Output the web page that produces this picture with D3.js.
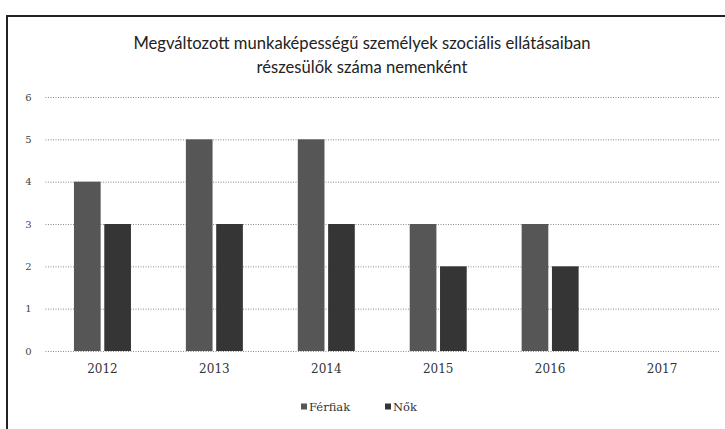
<!DOCTYPE html>
<html>
<head>
<meta charset="utf-8">
<script src="https://cdn.jsdelivr.net/npm/d3@7"></script>
<style>
  html, body { margin: 0; padding: 0; background: #fff; }
  svg { display: block; }
</style>
</head>
<body>
<svg id="chart" width="725" height="429"></svg>
<script>
// Chart data
const years = ["2012", "2013", "2014", "2015", "2016", "2017"];
const ferfiak = [4, 5, 5, 3, 3, 0];
const nok = [3, 3, 3, 2, 2, 0];
const seriesNames = ["Férfiak", "Nők"];
const yTicks = [0, 1, 2, 3, 4, 5, 6];
const titleLines = [
  "Megváltozott munkaképességű személyek szociális ellátásaiban",
  "részesülők száma nemenként"
];

const colors = { "Férfiak": "#565656", "Nők": "#353535" };
const svg = d3.select("#chart");

// Frame of the chart area
svg.append("line").attr("x1", 6).attr("x2", 725).attr("y1", 16).attr("y2", 16)
  .attr("stroke", "#222").attr("stroke-width", 2);
svg.append("line").attr("x1", 7).attr("x2", 7).attr("y1", 15).attr("y2", 429)
  .attr("stroke", "#222").attr("stroke-width", 2);

// Title
svg.append("g").selectAll("text").data(titleLines).join("text")
  .attr("x", 362).attr("y", (d, i) => 49 + i * 24)
  .attr("text-anchor", "middle")
  .attr("font-family", "Lato, 'Open Sans', sans-serif")
  .attr("font-size", 16.6)
  .attr("fill", "#222")
  .text(d => d);

const plot = { left: 46.5, right: 718, top: 97, bottom: 351 };

const x = d3.scaleBand().domain(years).range([plot.left, plot.right]).paddingInner(0).paddingOuter(0);
const xSub = d3.scaleBand().domain(seriesNames).range([0, 57]).paddingInner(0.12);
const y = d3.scaleLinear().domain([0, 6]).range([plot.bottom, plot.top]);

// Gridlines
const yAxis = d3.axisLeft(y).tickValues(yTicks).tickSize(-(plot.right - plot.left + 2)).tickPadding(14).tickFormat(d3.format("d"));
const gy = svg.append("g").attr("transform", `translate(${plot.left - 1},0)`).call(yAxis);
gy.select(".domain").remove();
gy.selectAll(".tick line").attr("stroke", "#8a8a8a").attr("stroke-dasharray", "1,1.5").attr("stroke-width", 1);
gy.selectAll(".tick text").attr("font-family", "'DejaVu Serif', 'Liberation Serif', serif")
  .attr("font-size", 10).attr("fill", "#444");

// Bars
const groups = svg.append("g").selectAll("g").data(years).join("g")
  .attr("transform", d => `translate(${x(d) + x.bandwidth() / 2 - 28.5},0)`);
groups.selectAll("rect")
  .data((d, i) => [
    { s: "Férfiak", v: ferfiak[i] },
    { s: "Nők", v: nok[i] }
  ])
  .join("rect")
  .attr("x", d => xSub(d.s))
  .attr("width", xSub.bandwidth())
  .attr("y", d => y(d.v))
  .attr("height", d => y(0) - y(d.v))
  .attr("fill", d => colors[d.s]);

// Category axis
const xAxis = d3.axisBottom(x).tickSize(0).tickPadding(13);
const gx = svg.append("g").attr("transform", `translate(0,${plot.bottom})`).call(xAxis);
gx.select(".domain").remove();
gx.selectAll(".tick text").attr("font-family", "'DejaVu Serif', 'Liberation Serif', serif")
  .attr("font-size", 12).attr("fill", "#333");

// Legend
const legend = svg.append("g").attr("transform", "translate(301,407)");
const legendX = [0, 84];
const li = legend.selectAll("g").data(seriesNames).join("g")
  .attr("transform", (d, i) => `translate(${legendX[i]},0)`);
li.append("rect").attr("x", 0).attr("y", -3.5).attr("width", 6).attr("height", 6)
  .attr("fill", d => colors[d]);
li.append("text").attr("x", 8).attr("y", 0).attr("dy", "0.35em")
  .attr("font-family", "'DejaVu Serif', 'Liberation Serif', serif")
  .attr("font-size", 11.5).attr("fill", "#333")
  .text(d => d);
</script>
</body>
</html>
